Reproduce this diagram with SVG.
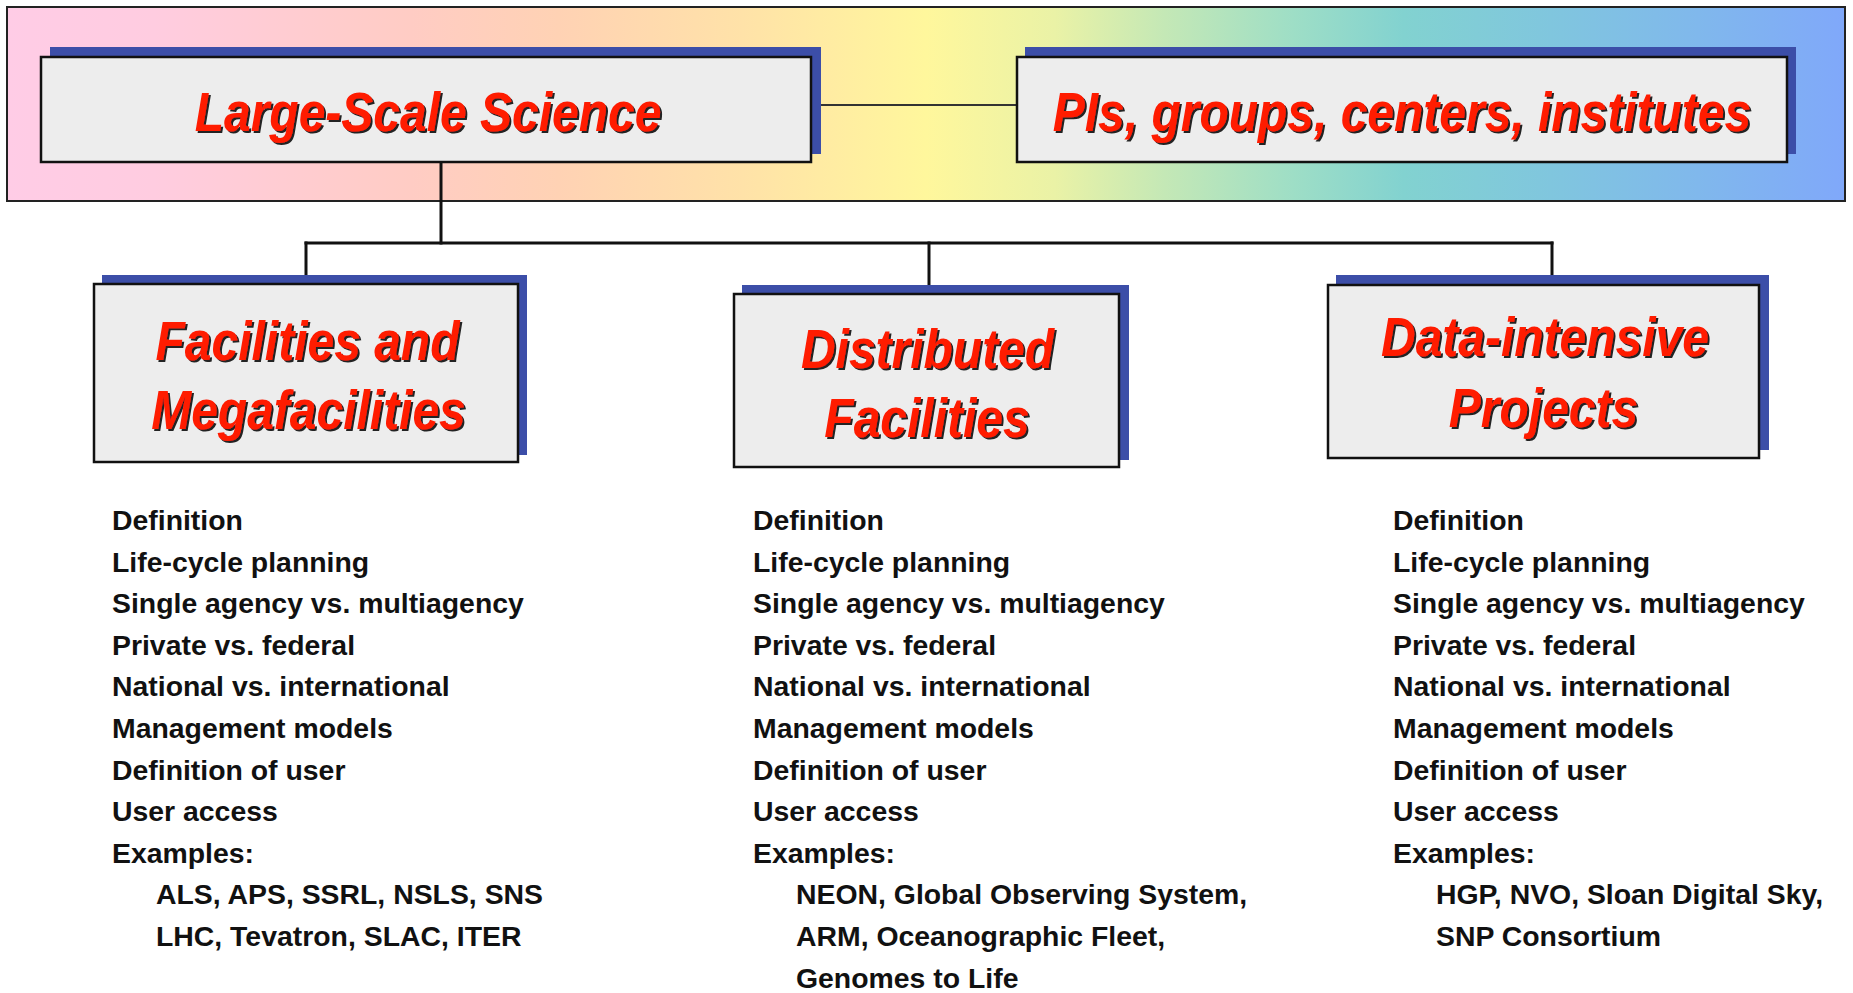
<svg xmlns="http://www.w3.org/2000/svg" width="1853" height="993" viewBox="0 0 1853 993">
<defs>
<linearGradient id="bannerGrad" x1="0" y1="0" x2="1" y2="0">
<stop offset="0" stop-color="#FFCCE6"/>
<stop offset="0.08" stop-color="#FFCCE0"/>
<stop offset="0.22" stop-color="#FFCCC4"/>
<stop offset="0.30" stop-color="#FFD2B4"/>
<stop offset="0.40" stop-color="#FFE2A8"/>
<stop offset="0.50" stop-color="#FFF79C"/>
<stop offset="0.57" stop-color="#EAF2A6"/>
<stop offset="0.63" stop-color="#C4E8B6"/>
<stop offset="0.70" stop-color="#9EDEC6"/>
<stop offset="0.76" stop-color="#82D2D0"/>
<stop offset="0.84" stop-color="#80C6DE"/>
<stop offset="0.92" stop-color="#80B8EC"/>
<stop offset="1" stop-color="#80A8FA"/>
</linearGradient>
<filter id="ts" x="-15%" y="-40%" width="130%" height="180%">
<feOffset in="SourceAlpha" dx="2.3" dy="2" result="off"/>
<feFlood flood-color="#000000" flood-opacity="0.85"/>
<feComposite in2="off" operator="in" result="sh"/>
<feMerge><feMergeNode in="sh"/><feMergeNode in="SourceGraphic"/></feMerge>
</filter>
</defs>
<style>
.shadow{fill:#3C4EA8;}
.box{fill:#EDEDED;stroke:#111111;stroke-width:2.5;}
.title{font-family:"Liberation Sans",Arial,sans-serif;font-weight:bold;font-style:italic;font-size:56px;fill:#FF1A00;text-anchor:middle;filter:url(#ts);}
.body{font-family:"Liberation Sans",Arial,sans-serif;font-weight:bold;font-size:28.4px;fill:#111111;}
.conn{fill:none;stroke:#111111;stroke-width:3;stroke-linecap:square;}
.thin{fill:none;stroke:#333333;stroke-width:2;}
</style>
<rect width="1853" height="993" fill="#FFFFFF"/>
<g id="banner">
<rect x="7" y="7" width="1838" height="194" fill="url(#bannerGrad)" stroke="#222222" stroke-width="2"/>
</g>
<g id="connectors">
<line class="thin" x1="811" y1="105" x2="1017" y2="105"/>
<line class="conn" x1="441" y1="162" x2="441" y2="243"/>
<line class="conn" x1="306" y1="243" x2="1552" y2="243"/>
<line class="conn" x1="306" y1="243" x2="306" y2="276"/>
<line class="conn" x1="929" y1="243" x2="929" y2="286"/>
<line class="conn" x1="1552" y1="243" x2="1552" y2="276"/>
</g>
<g id="node-large-scale-science">
<rect class="shadow" x="50" y="47" width="771" height="107"/>
<rect class="box" x="41" y="57" width="770" height="105"/>
<text class="title" transform="translate(428 0) scale(0.857 1)" x="0" y="131">Large-Scale Science</text>
</g>
<g id="node-pis">
<rect class="shadow" x="1025" y="47" width="771" height="107"/>
<rect class="box" x="1017" y="57" width="770" height="105"/>
<text class="title" transform="translate(1402 0) scale(0.857 1)" x="0" y="131">PIs, groups, centers, institutes</text>
</g>
<g id="node-facilities">
<rect class="shadow" x="102" y="275" width="425" height="180"/>
<rect class="box" x="94" y="284" width="424" height="178"/>
<text class="title" transform="translate(307.5 0) scale(0.857 1)" x="0" y="360">Facilities and</text>
<text class="title" transform="translate(308.5 0) scale(0.857 1)" x="0" y="429">Megafacilities</text>
</g>
<g id="node-distributed">
<rect class="shadow" x="742" y="285" width="387" height="175"/>
<rect class="box" x="734" y="294" width="385" height="173"/>
<text class="title" transform="translate(927.5 0) scale(0.857 1)" x="0" y="368">Distributed</text>
<text class="title" transform="translate(927 0) scale(0.857 1)" x="0" y="437">Facilities</text>
</g>
<g id="node-data-intensive">
<rect class="shadow" x="1336" y="275" width="433" height="175"/>
<rect class="box" x="1328" y="285" width="431" height="173"/>
<text class="title" transform="translate(1545 0) scale(0.857 1)" x="0" y="356">Data-intensive</text>
<text class="title" transform="translate(1543.5 0) scale(0.857 1)" x="0" y="427">Projects</text>
</g>
<g id="list-facilities">
<text class="body">
<tspan x="112" y="530">Definition</tspan>
<tspan x="112" y="571.6">Life-cycle planning</tspan>
<tspan x="112" y="613.2">Single agency vs. multiagency</tspan>
<tspan x="112" y="654.8">Private vs. federal</tspan>
<tspan x="112" y="696.4">National vs. international</tspan>
<tspan x="112" y="738">Management models</tspan>
<tspan x="112" y="779.6">Definition of user</tspan>
<tspan x="112" y="821.2">User access</tspan>
<tspan x="112" y="862.8">Examples:</tspan>
<tspan x="156" y="904.4">ALS, APS, SSRL, NSLS, SNS</tspan>
<tspan x="156" y="946">LHC, Tevatron, SLAC, ITER</tspan>
</text>
</g>
<g id="list-distributed">
<text class="body">
<tspan x="753" y="530">Definition</tspan>
<tspan x="753" y="571.6">Life-cycle planning</tspan>
<tspan x="753" y="613.2">Single agency vs. multiagency</tspan>
<tspan x="753" y="654.8">Private vs. federal</tspan>
<tspan x="753" y="696.4">National vs. international</tspan>
<tspan x="753" y="738">Management models</tspan>
<tspan x="753" y="779.6">Definition of user</tspan>
<tspan x="753" y="821.2">User access</tspan>
<tspan x="753" y="862.8">Examples:</tspan>
<tspan x="796" y="904.4">NEON, Global Observing System,</tspan>
<tspan x="796" y="946">ARM, Oceanographic Fleet,</tspan>
<tspan x="796" y="987.6">Genomes to Life</tspan>
</text>
</g>
<g id="list-data-intensive">
<text class="body">
<tspan x="1393" y="530">Definition</tspan>
<tspan x="1393" y="571.6">Life-cycle planning</tspan>
<tspan x="1393" y="613.2">Single agency vs. multiagency</tspan>
<tspan x="1393" y="654.8">Private vs. federal</tspan>
<tspan x="1393" y="696.4">National vs. international</tspan>
<tspan x="1393" y="738">Management models</tspan>
<tspan x="1393" y="779.6">Definition of user</tspan>
<tspan x="1393" y="821.2">User access</tspan>
<tspan x="1393" y="862.8">Examples:</tspan>
<tspan x="1436" y="904.4">HGP, NVO, Sloan Digital Sky,</tspan>
<tspan x="1436" y="946">SNP Consortium</tspan>
</text>
</g>
</svg>
